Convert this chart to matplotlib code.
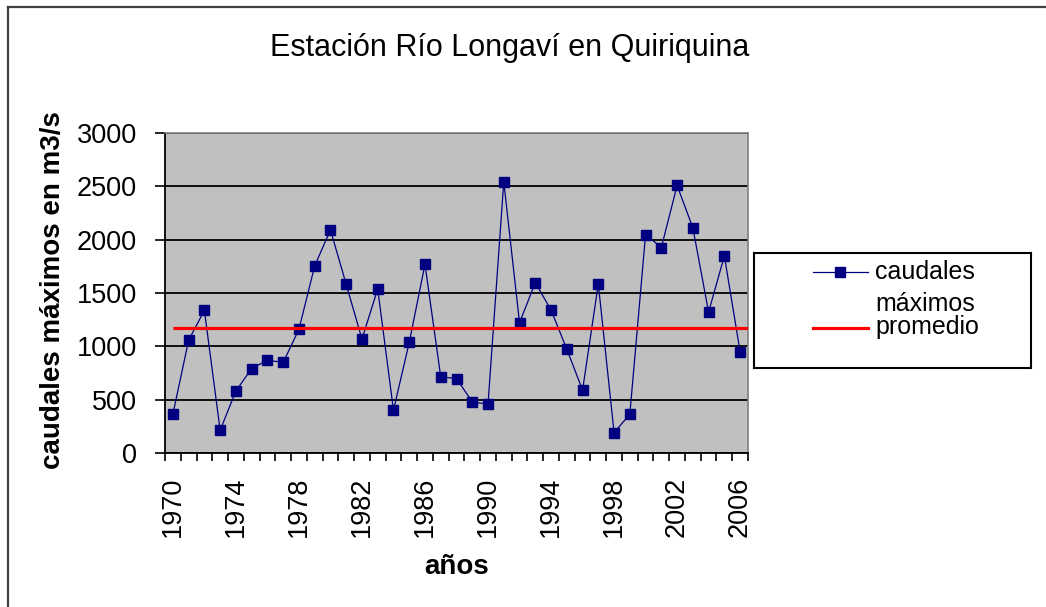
import matplotlib
matplotlib.use("Agg")
import matplotlib.pyplot as plt
from matplotlib.lines import Line2D
from matplotlib.patches import Rectangle

plt.rcParams['font.family'] = ['Liberation Sans', 'DejaVu Sans']

# ---- data ----
years = list(range(1970, 2007))
caudales = [363, 1058, 1337, 213, 582, 792, 870, 849, 1159, 1754,
            2092, 1581, 1068, 1538, 401, 1036, 1769, 714, 698, 479,
            457, 2543, 1221, 1597, 1340, 974, 589, 1585, 191, 363,
            2048, 1926, 2508, 2111, 1321, 1848, 949]
promedio = 1170
label_years = list(range(1970, 2007, 4))
yticks = [0, 500, 1000, 1500, 2000, 2500, 3000]

title = "Estación Río Longaví en Quiriquina"
xlabel = "años"
ylabel = "caudales máximos en m3/s"
legend_labels = ["caudales", "máximos", "promedio"]

W, H = 1046, 607
fig = plt.figure(figsize=(W / 100, H / 100), dpi=100)
fig.patch.set_facecolor('white')

def fx(px):
    return px / W

def fy(py):
    return 1 - py / H

# plot area
L, R, T, B = 165, 748, 133, 453
ax = fig.add_axes([fx(L), fy(B), fx(R - L), fy(T) - fy(B)])
ax.set_facecolor('#C0C0C0')

navy = '#000080'
ax.plot(years, caudales, color=navy, lw=0.9, marker='s', markersize=7.2,
        markerfacecolor=navy, markeredgecolor=navy, zorder=3)
ax.hlines(promedio, years[0], years[-1] + 0.5, color='#FF0000', lw=2.3, zorder=4)

ax.set_xlim(years[0] - 0.5, years[-1] + 0.5)
ax.set_ylim(0, 3000)
ax.set_yticks(yticks)
ax.set_yticklabels([str(v) for v in yticks], fontsize=19.5)
ax.set_xticks(label_years)
ax.set_xticklabels([str(y) for y in label_years], rotation=90, fontsize=19.5,
                   va='top', ha='center')
ax.set_xticks([y - 0.5 for y in years] + [years[-1] + 0.5], minor=True)

ax.tick_params(axis='x', which='major', length=0, pad=17)
ax.tick_params(axis='x', which='minor', length=6, width=1.2, direction='out', color='black')
ax.tick_params(axis='y', which='major', length=7, width=1.2, direction='out', pad=13, color='black')

ax.yaxis.grid(True, color='black', lw=1.3, zorder=1)
ax.set_axisbelow(True)
for s in ['left', 'bottom']:
    ax.spines[s].set_color('black')
    ax.spines[s].set_linewidth(1.3)
for s in ['top', 'right']:
    ax.spines[s].set_color('#808080')
    ax.spines[s].set_linewidth(1.2)

# titles
fig.text(fx(510), fy(48), title, fontsize=22, ha='center', va='center')
fig.text(fx(457), fy(567), xlabel, fontsize=20, fontweight='bold', ha='center', va='center')
fig.text(fx(53), fy(290), ylabel, fontsize=20, fontweight='bold', rotation=90,
         ha='center', va='center')

# legend box
lx0, ly0, lx1, ly1 = 754, 253, 1031, 368
lax = fig.add_axes([fx(lx0), fy(ly1), fx(lx1 - lx0), fy(ly0) - fy(ly1)])
lax.set_xlim(0, lx1 - lx0)
lax.set_ylim(ly1 - ly0, 0)
lax.set_xticks([])
lax.set_yticks([])
lax.set_facecolor('white')
for s in lax.spines.values():
    s.set_color('black')
    s.set_linewidth(1.5)
lax.plot([59, 114], [19, 19], color=navy, lw=0.9)
lax.plot([86], [19], marker='s', markersize=7.2, color=navy)
lax.plot([59, 114], [75, 75], color='#FF0000', lw=2.3)
lax.text(121, 19, legend_labels[0], fontsize=18, va='center', ha='left')
lax.text(121, 51, legend_labels[1], fontsize=18, va='center', ha='left')
lax.text(121, 74, legend_labels[2], fontsize=18, va='center', ha='left')

# outer border (top and left visible)
fig.add_artist(Line2D([fx(7.5), 1.0], [fy(6.5), fy(6.5)], color='#404040', lw=1.6,
                      transform=fig.transFigure))
fig.add_artist(Line2D([fx(7.5), fx(7.5)], [0.0, fy(6.5)], color='#404040', lw=1.6,
                      transform=fig.transFigure))

fig.savefig("out.png", dpi=100)
